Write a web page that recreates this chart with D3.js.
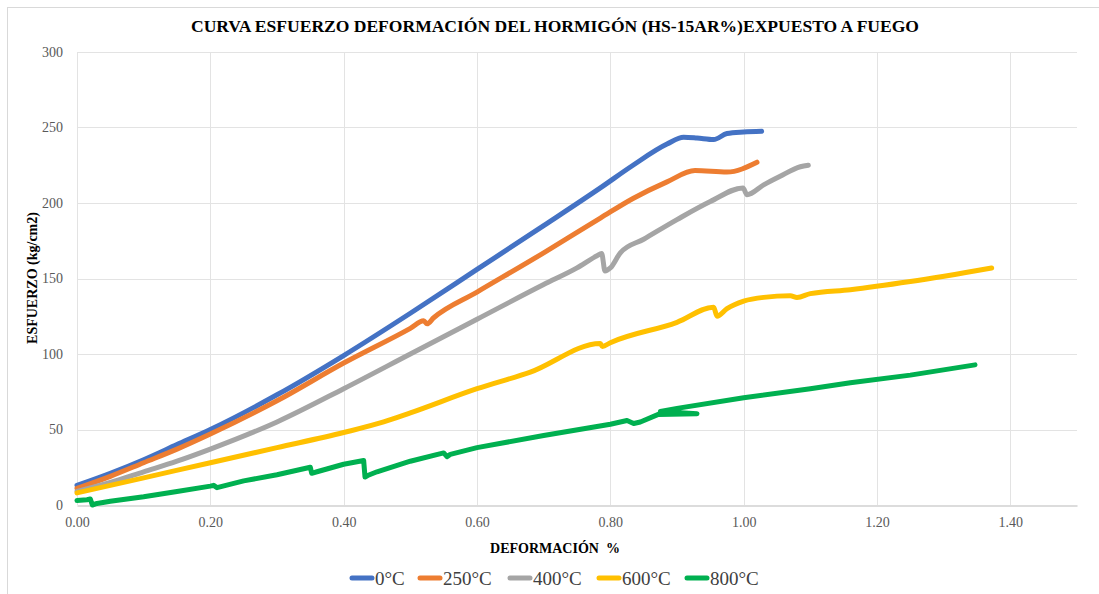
<!DOCTYPE html>
<html>
<head>
<meta charset="utf-8">
<style>
  body { margin: 0; background: #fff; }
  svg text { font-family: "Liberation Serif", "Times New Roman", serif; }
</style>
</head>
<body>
<script src="https://cdn.jsdelivr.net/npm/d3@7"></script>
<script>

// *** DATA ***

var xTicks = [0, 0.2, 0.4, 0.6, 0.8, 1.0, 1.2, 1.4];
var yTicks = [0, 50, 100, 150, 200, 250, 300];

var seriesNames = ["0°C", "250°C", "400°C", "600°C", "800°C"];
var seriesColors = ["#4472C4", "#ED7D31", "#A5A5A5", "#FFC000", "#00B050"];

var strain0 = [0, 0.05, 0.1, 0.15, 0.2, 0.3, 0.4, 0.5, 0.6, 0.7, 0.785, 0.834, 0.885, 0.91, 0.93, 0.955, 0.975, 1.0, 1.027];
var stress0 = [13, 21, 30, 40, 50, 73, 99, 127, 156, 185, 210, 225, 239, 243.5, 243, 242, 246, 247, 247.5];

var strain250 = [0, 0.05, 0.1, 0.15, 0.2, 0.3, 0.4, 0.5, 0.52, 0.525, 0.535, 0.6, 0.7, 0.785, 0.834, 0.885, 0.927, 0.975, 1.02];
var stress250 = [11, 19, 28, 37, 47, 69, 94, 117, 122, 120, 124, 141, 167, 190, 203, 214, 221.5, 220.5, 227];

var strain400 = [0, 0.05, 0.1, 0.15, 0.2, 0.3, 0.4, 0.5, 0.6, 0.7, 0.75, 0.78, 0.787, 0.792, 0.8, 0.815, 0.85, 0.9, 0.95, 0.999, 1.005, 1.03, 1.054, 1.085, 1.097];
var stress400 = [9, 15, 22, 29, 37, 55, 77, 100, 123, 146, 157, 165, 166.5, 155, 157, 167, 176, 189, 201, 210, 205.5, 212, 217.5, 224, 225];

var strain600 = [0, 0.05, 0.1, 0.2, 0.3, 0.4, 0.46, 0.5, 0.6, 0.68, 0.785, 0.788, 0.8, 0.9, 0.955, 0.96, 0.975, 1.0, 1.03, 1.07, 1.08, 1.1, 1.16, 1.25, 1.372];
var stress600 = [8, 13, 18, 28, 38, 48, 55, 61, 77, 88, 107, 105, 107.5, 121, 131, 125, 130, 135, 137.5, 138.5, 137.5, 140, 142.6, 148, 157];

var strain800 = [0, 0.015, 0.02, 0.023, 0.03, 0.05, 0.1, 0.15, 0.2, 0.205, 0.21, 0.25, 0.3, 0.35, 0.352, 0.36, 0.4, 0.43, 0.432, 0.436, 0.45, 0.5, 0.55, 0.555, 0.56, 0.6, 0.7, 0.8, 0.825, 0.835, 0.845, 0.872, 0.93, 0.875, 0.9, 1.0, 1.1, 1.16, 1.25, 1.347];
var stress800 = [3, 3.5, 4, 0, 1, 2.5, 5.5, 9, 12.5, 13, 11.5, 16, 20, 25, 21, 22, 27, 29.5, 18.5, 19.5, 22, 29, 34.5, 32, 33.5, 38, 46, 53.5, 56, 54, 55, 60, 60.5, 62, 64, 71, 77, 81, 86, 92.8];

var strainList = [strain0, strain250, strain400, strain600, strain800];
var stressList = [stress0, stress250, stress400, stress600, stress800];

// *** LAYOUT ***

var W = 1099, H = 594;
var plotLeft = 77, plotRight = 1077, plotTop = 52, plotBottom = 505;

var svg = d3.select("body").append("svg")
	.attr("width", W)
	.attr("height", H);

// chart frame
svg.append("rect")
	.attr("x", 7.5).attr("y", 7.5)
	.attr("width", W).attr("height", H)
	.style("fill", "#fff")
	.style("stroke", "#d9d9d9");

var x = d3.scaleLinear().domain([0, 1.5]).range([plotLeft, plotRight]);
var y = d3.scaleLinear().domain([0, 300]).range([plotBottom, plotTop]);

// gridlines
var grid = svg.append("g");
grid.selectAll("line.h").data(yTicks.slice(1))
	.enter().append("line")
	.attr("x1", plotLeft).attr("x2", plotRight)
	.attr("y1", function(d){ return Math.round(y(d)) + 0.5; })
	.attr("y2", function(d){ return Math.round(y(d)) + 0.5; })
	.style("stroke", "#e3e3e3");
grid.selectAll("line.v").data(xTicks)
	.enter().append("line")
	.attr("y1", plotTop).attr("y2", plotBottom)
	.attr("x1", function(d){ return Math.round(x(d)) + 0.5; })
	.attr("x2", function(d){ return Math.round(x(d)) + 0.5; })
	.style("stroke", "#e3e3e3");

// axes
var xAxis = d3.axisBottom(x).tickValues(xTicks).tickFormat(d3.format(".2f")).tickSize(0).tickPadding(12);
var gx = svg.append("g").attr("transform", "translate(0," + (plotBottom + 0.5) + ")").call(xAxis);
gx.attr("font-family", null);
gx.select(".domain").style("stroke", "#d0d0d0").attr("stroke-width", 1.5);
gx.selectAll("text").style("font-size", "14px").style("fill", "#595959");

var yAxis = d3.axisLeft(y).tickValues(yTicks).tickSize(0).tickPadding(14);
var gy = svg.append("g").attr("transform", "translate(" + plotLeft + ",0)").call(yAxis);
gy.attr("font-family", null);
gy.select(".domain").remove();
gy.selectAll("text").style("font-size", "14px").style("fill", "#595959");

// series (smooth for x-monotone series, plain for the 800°C trace that turns back)
var lineSmooth = d3.line()
	.x(function(d){ return x(d[0]); })
	.y(function(d){ return y(d[1]); })
	.curve(d3.curveMonotoneX);
var linePlain = d3.line()
	.x(function(d){ return x(d[0]); })
	.y(function(d){ return y(d[1]); });

var lines = svg.append("g");
for (var ii = 0; ii < seriesNames.length; ii++) {
	var pts = strainList[ii].map(function(v, k){ return [v, stressList[ii][k]]; });
	lines.append("path")
		.datum(pts)
		.attr("d", ii == 4 ? linePlain : lineSmooth)
		.style("fill", "none")
		.style("stroke", seriesColors[ii])
		.style("stroke-width", 5)
		.style("stroke-linejoin", "round")
		.style("stroke-linecap", "round");
}

// title
svg.append("text")
	.attr("x", 555).attr("y", 32)
	.attr("text-anchor", "middle")
	.attr("textLength", 728)
	.attr("lengthAdjust", "spacingAndGlyphs")
	.style("font-size", "16px").style("font-weight", "bold").style("fill", "#000")
	.text("CURVA ESFUERZO DEFORMACIÓN DEL HORMIGÓN (HS-15AR%)EXPUESTO A FUEGO");

// axis titles
svg.append("text")
	.attr("x", 555).attr("y", 553)
	.attr("text-anchor", "middle")
	.style("font-size", "14px").style("font-weight", "bold").style("fill", "#000")
	.style("white-space", "pre")
	.text("DEFORMACIÓN  %");

svg.append("text")
	.attr("transform", "translate(37," + 278 + ") rotate(-90)")
	.attr("text-anchor", "middle")
	.style("font-size", "14px").style("font-weight", "bold").style("fill", "#000")
	.text("ESFUERZO (kg/cm2)");

// legend
var legendX = [350, 418, 508, 597, 685];
var legend = svg.append("g");
legend.selectAll("g").data(seriesNames)
	.enter().append("g")
	.each(function(d, i){
		var g = d3.select(this);
		g.append("line")
			.attr("x1", legendX[i] + 2).attr("x2", legendX[i] + 22)
			.attr("y1", 578).attr("y2", 578)
			.style("stroke", seriesColors[i])
			.style("stroke-width", 5)
			.style("stroke-linecap", "round");
		g.append("text")
			.attr("x", legendX[i] + 25).attr("y", 585)
			.style("font-size", "19px").style("fill", "#404040")
			.text(d);
	});

</script>
</body>
</html>
